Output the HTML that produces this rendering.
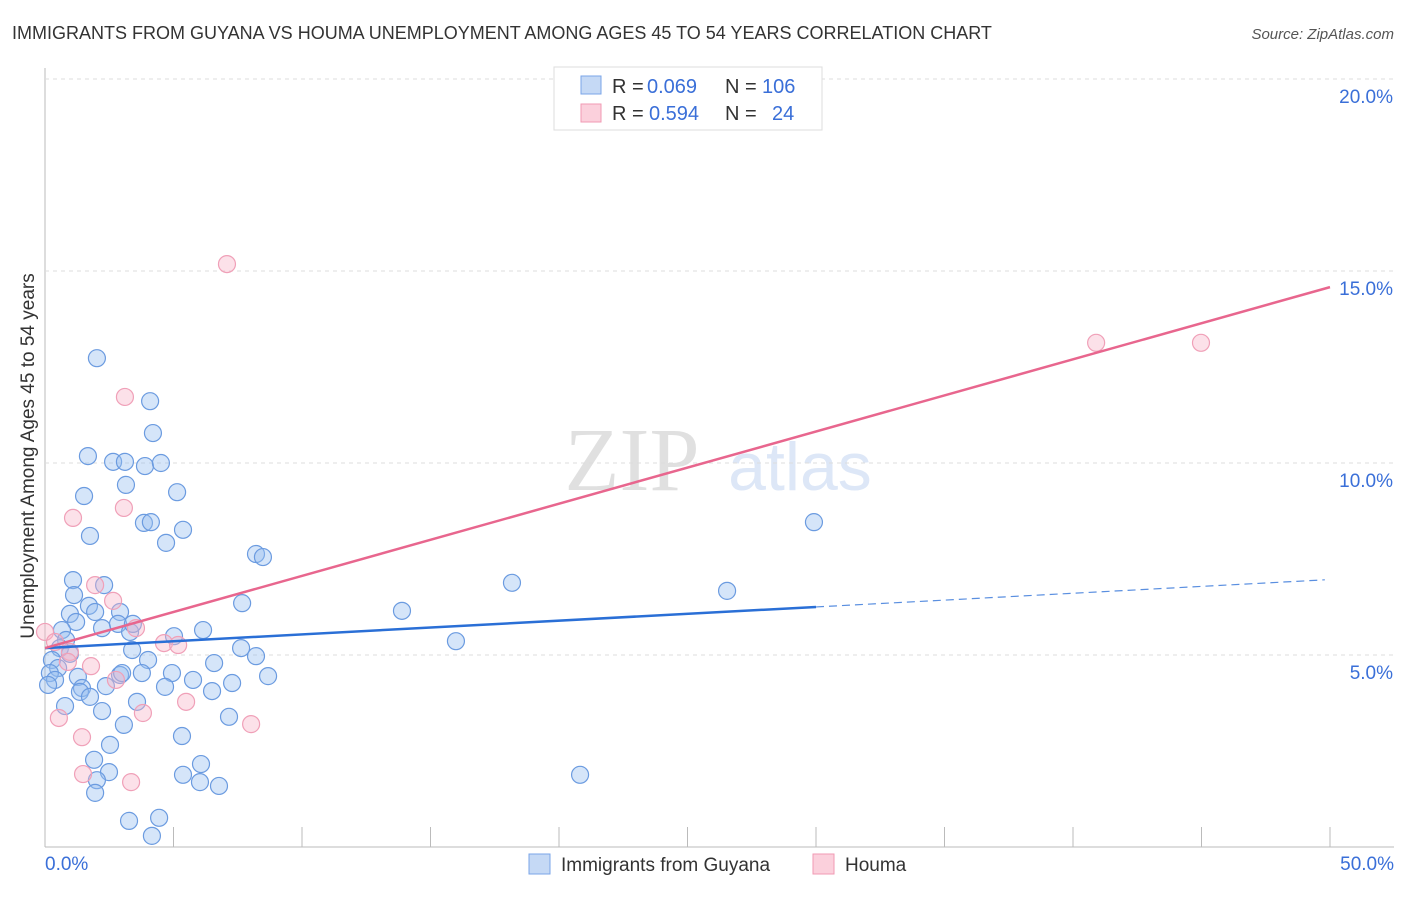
<!DOCTYPE html>
<html><head><meta charset="utf-8"><style>
body{margin:0;background:#fff;font-family:"Liberation Sans",sans-serif}
</style></head><body>
<svg id="c" width="1406" height="892" xmlns="http://www.w3.org/2000/svg">
<text x="12" y="39" font-size="18" fill="#333">IMMIGRANTS FROM GUYANA VS HOUMA UNEMPLOYMENT AMONG AGES 45 TO 54 YEARS CORRELATION CHART</text>
<text x="1394" y="39" font-size="15" fill="#555" font-style="italic" text-anchor="end">Source: ZipAtlas.com</text>
<text x="34" y="456" font-size="19" fill="#333" text-anchor="middle" transform="rotate(-90 34 456)">Unemployment Among Ages 45 to 54 years</text>
<text x="632" y="490" font-size="90" fill="#ccc" font-family="Liberation Serif" text-anchor="middle" opacity="0.6">ZIP</text>
<text x="800" y="490" font-size="68" fill="#c8d8f2" text-anchor="middle" opacity="0.6">atlas</text>
<g id="grid"></g><g id="pts"></g><g id="lines"></g>
<g>
<rect x="554" y="67" width="268" height="63" fill="#fff" stroke="#ddd"/>
<rect x="581" y="76" width="20" height="18" fill="#c5d9f5" stroke="#7aa5e8"/>
<rect x="581" y="104" width="20" height="18" fill="#fbd0dc" stroke="#f09ab3"/>
<g font-size="20">
<text x="612" y="93" fill="#333">R =</text><text x="647" y="93" fill="#3a6fd8">0.069</text>
<text x="725" y="93" fill="#333">N =</text><text x="762" y="93" fill="#3a6fd8">106</text></g>
<g font-size="20">
<text x="612" y="120" fill="#333">R =</text><text x="649" y="120" fill="#3a6fd8">0.594</text>
<text x="725" y="120" fill="#333">N =</text><text x="772" y="120" fill="#3a6fd8">24</text></g>
</g>
<g>
<rect x="529" y="854" width="21" height="20" fill="#c5d9f5" stroke="#7aa5e8"/>
<text x="561" y="871" font-size="19" fill="#333">Immigrants from Guyana</text>
<rect x="813" y="854" width="21" height="20" fill="#fbd0dc" stroke="#f09ab3"/>
<text x="845" y="871" font-size="19" fill="#333">Houma</text>
</g>
</svg>
<script>
const yTicks=[5,10,15,20];
const yTickLabels=["5.0%","10.0%","15.0%","20.0%"];
const xTicks=[0,5,10,15,20,25,30,35,40,45,50];
const blueX=[2.02,4.09,4.2,1.67,2.65,3.11,3.89,4.51,3.15,5.14,1.52,3.85,4.12,5.37,1.75,4.71,8.21,8.48,18.17,1.09,2.3,1.13,7.67,13.89,26.54,29.92,15.99,20.82,1.71,0.97,1.95,2.92,1.21,2.22,2.84,3.31,3.42,5.02,6.15,0.66,0.82,0.58,0.97,3.39,4.01,7.63,8.21,6.58,0.27,0.51,0.19,0.39,0.12,1.28,2.92,3.0,3.77,4.94,8.68,1.44,1.36,2.37,4.67,5.76,6.5,7.28,1.75,0.78,2.22,3.58,3.07,7.16,5.33,2.53,1.91,2.49,5.37,6.07,2.02,6.03,6.77,1.95,3.27,4.44,4.16];
const blueY=[12.73,11.61,10.78,10.18,10.03,10.03,9.92,10.0,9.43,9.24,9.14,8.44,8.46,8.26,8.1,7.92,7.63,7.55,6.88,6.95,6.82,6.56,6.35,6.15,6.67,8.46,5.36,1.88,6.28,6.07,6.12,6.12,5.86,5.7,5.81,5.6,5.81,5.49,5.65,5.65,5.39,5.18,5.03,5.13,4.87,5.18,4.97,4.79,4.87,4.66,4.53,4.35,4.22,4.43,4.48,4.53,4.53,4.53,4.45,4.14,4.04,4.19,4.17,4.35,4.06,4.27,3.91,3.67,3.54,3.78,3.18,3.39,2.89,2.66,2.27,1.95,1.88,2.16,1.74,1.69,1.59,1.41,0.68,0.76,0.29];
const pinkX=[7.08,40.9,44.98,3.11,3.07,1.09,1.95,2.65,3.54,0,0.39,4.63,5.18,0.97,0.89,1.79,2.76,5.49,3.81,0.54,8.02,1.44,1.48,3.35];
const pinkY=[15.18,13.13,13.13,11.72,8.83,8.57,6.82,6.41,5.7,5.6,5.34,5.31,5.26,5.08,4.82,4.71,4.35,3.78,3.49,3.36,3.2,2.86,1.9,1.69];
const blueTrend=[5.18,0.0357]; // intercept, slope
const pinkTrend=[5.18,0.1880];
const NS="http://www.w3.org/2000/svg";
const X=v=>45+v*25.7, Y=v=>847-v*38.4;
function mk(t,a,p){const e=document.createElementNS(NS,t);for(const k in a)e.setAttribute(k,a[k]);p.appendChild(e);return e;}
const grid=document.getElementById('grid');
mk('line',{x1:45,y1:68,x2:45,y2:847,stroke:'#bbb'},grid);
mk('line',{x1:45,y1:847,x2:1394,y2:847,stroke:'#bbb'},grid);
yTicks.forEach((v,i)=>{
 const l=mk('line',{x1:45,y1:Y(v),x2:1394,y2:Y(v),stroke:'#ddd','stroke-dasharray':'4 4'},grid);
 
 
 const t=mk('text',{x:1393,y:Y(v)+24,'font-size':19,fill:'#3a6fd8','text-anchor':'end'},grid);
 t.textContent=yTickLabels[i];
 
 
});
xTicks.forEach(v=>{
 const l=mk('line',{x1:X(v),y1:827,x2:X(v),y2:847,stroke:'#bbb'},grid);
 
 
});
let t=mk('text',{x:45,y:870,'font-size':19,fill:'#3a6fd8'},grid);t.textContent='0.0%';


t=mk('text',{x:1394,y:870,'font-size':19,fill:'#3a6fd8','text-anchor':'end'},grid);t.textContent='50.0%';


const pts=document.getElementById('pts');
blueX.forEach((x,i)=>{const c=mk('circle',{cx:X(x),cy:Y(blueY[i]),r:8.5,fill:'rgba(150,190,240,0.4)',stroke:'#6b9be0','stroke-width':1.2},pts);
 
 });
pinkX.forEach((x,i)=>{const c=mk('circle',{cx:X(x),cy:Y(pinkY[i]),r:8.5,fill:'rgba(248,180,200,0.4)',stroke:'#f0a0b8','stroke-width':1.2},pts);
 
 });
const lines=document.getElementById('lines');
let l=mk('line',{x1:X(0),y1:Y(blueTrend[0]),x2:X(30),y2:Y(blueTrend[0]+blueTrend[1]*30),stroke:'#2a6fd6','stroke-width':2.5},lines);


l=mk('line',{x1:X(30),y1:Y(blueTrend[0]+blueTrend[1]*30),x2:X(49.8),y2:Y(blueTrend[0]+blueTrend[1]*49.8),stroke:'#5a8fe0','stroke-width':1.2,'stroke-dasharray':'8 5'},lines);


l=mk('line',{x1:X(0),y1:Y(pinkTrend[0]),x2:X(50),y2:Y(pinkTrend[0]+pinkTrend[1]*50),stroke:'#e8668e','stroke-width':2.5},lines);


</script>
</body></html>
